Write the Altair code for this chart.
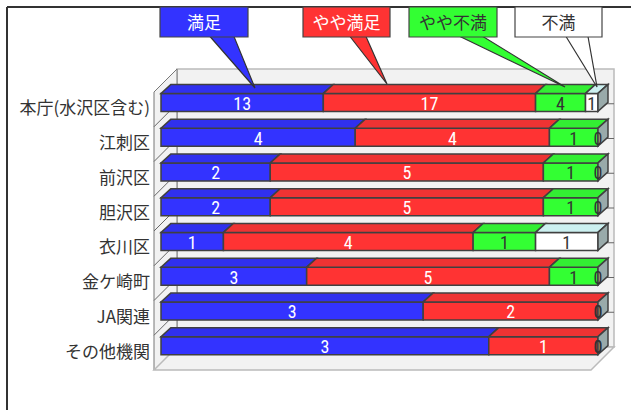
import altair as alt
import pandas as pd

# ---------------- data ----------------
categories = ["本庁(水沢区含む)", "江刺区", "前沢区", "胆沢区", "衣川区", "金ケ崎町", "JA関連", "その他機関"]
series = ["満足", "やや満足", "やや不満", "不満"]
satisfied = [13, 4, 2, 2, 1, 3, 3, 3]
somewhat_satisfied = [17, 4, 5, 5, 4, 5, 2, 1]
somewhat_dissatisfied = [4, 1, 1, 1, 1, 1, 0, 0]
dissatisfied = [1, 0, 0, 0, 1, 0, 0, 0]
values = [satisfied, somewhat_satisfied, somewhat_dissatisfied, dissatisfied]

# ---------------- style ----------------
FRONT = {"満足": "#3333FF", "やや満足": "#FF3333", "やや不満": "#33FF33", "不満": "#FFFFFF"}
TOPC = {"満足": "#3030EE", "やや満足": "#EE3333", "やや不満": "#33EE33", "不満": "#CCF0F0"}
TEXTC = {"満足": "#FFFFFF", "やや満足": "#FFFFFF", "やや不満": "#333333", "不満": "#333333"}
SIDE = "#99AAAA"
EDGE = "#404040"

W, H = 437, 278
LEFT, TOP = 161, 85
N = len(categories)
PXU = W / 100.0
PYU = H / N


def ux(px):
    return px / PXU


def uy(px):
    return px / PYU


def X(px):
    return (px - LEFT) / PXU


def Y(py):
    return (py - TOP) / PYU - 0.5


HALF = uy(9)
DX, DY = ux(10), uy(9)

xs = alt.Scale(domain=[0, 100], nice=False, zero=False)
ys = alt.Scale(domain=[-0.5, N - 0.5], nice=False, zero=False, reverse=True)


def XQ(f):
    return alt.X(f, type="quantitative", scale=xs, axis=None)


def YQ(f):
    return alt.Y(f, type="quantitative", scale=ys, axis=None)


def poly_h(pts, fill, stroke, sw=1.5):
    # pts: [(y, xa, xb), ...] -- horizontal-oriented area polygon
    df = pd.DataFrame([dict(yk=a, xa=b, xb=c) for a, b, c in pts])
    return alt.Chart(df).mark_area(orient="horizontal", fill=fill, stroke=stroke, strokeWidth=sw,
                                   opacity=1).encode(y=YQ("yk"), x=XQ("xa"), x2="xb")


def poly_v(pts, fill, stroke, sw=1.5):
    # pts: [(x, ya, yb), ...] -- vertical-oriented area polygon
    df = pd.DataFrame([dict(xk=a, ya=b, yb=c) for a, b, c in pts])
    return alt.Chart(df).mark_area(orient="vertical", fill=fill, stroke=stroke, strokeWidth=sw,
                                   opacity=1).encode(x=XQ("xk"), y=YQ("ya"), y2="yb")


front_rows, lab_rows = [], []
top_layers, side_layers = [], []
for i, cat in enumerate(categories):
    vals = [v[i] for v in values]
    tot = sum(vals)
    cum = 0
    for s, v in zip(series, vals):
        x0 = cum / tot * 100
        cum += v
        x1 = cum / tot * 100
        lab_rows.append(dict(x=(x0 + x1) / 2, y=i + uy(2.5), t=str(v), c=TEXTC[s]))
        if v > 0:
            front_rows.append(dict(x0=x0, x1=x1, y0=i - HALF, y1=i + HALF, f=FRONT[s]))
            top_layers.append(poly_h([(i - HALF, x0, x1), (i - HALF - DY, x0 + DX, x1 + DX)], TOPC[s], EDGE))
    side_layers.append(poly_v([(100, i - HALF, i + HALF), (100 + DX, i - HALF - DY, i + HALF - DY)], SIDE, EDGE))

# ---------------- walls ----------------
FO, BO = 7, 16  # front / back plane offsets (px) from bar plane
back_wall = alt.Chart(pd.DataFrame([dict(x0=ux(BO), x1=100 + ux(BO), y0=-0.5 - uy(BO), y1=N - 0.5 - uy(BO))])).mark_rect(
    fill="#F2F2F2", stroke="#BBBBBB", strokeWidth=1.5
).encode(x=XQ("x0"), x2="x1", y=YQ("y0"), y2="y1")

left_wall = poly_v([(-ux(FO), -0.5 + uy(FO), N - 0.5 + uy(FO)),
                    (ux(BO), -0.5 - uy(BO), N - 0.5 - uy(BO))], "#F2F2F2", "#777777", 1)
floor = poly_h([(N - 0.5 + uy(FO), -ux(FO), 100 - ux(FO)),
                (N - 0.5 - uy(BO), ux(BO), 100 + ux(BO))], "#F2F2F2", "#BBBBBB", 1.5)

grid_rows = []
for k in range(1, N):
    yb = k - 0.5
    grid_rows.append(dict(x0=-ux(FO), x1=ux(BO), y0=yb + uy(FO), y1=yb - uy(BO)))
    grid_rows.append(dict(x0=ux(BO), x1=100 + ux(BO), y0=yb - uy(BO), y1=yb - uy(BO)))
grid = alt.Chart(pd.DataFrame(grid_rows)).mark_rule(color="#666666", strokeWidth=1).encode(
    x=XQ("x0"), x2="x1", y=YQ("y0"), y2="y1"
)

# ---------------- bars ----------------
fronts = alt.Chart(pd.DataFrame(front_rows)).mark_rect(stroke=EDGE, strokeWidth=1.5).encode(
    x=XQ("x0"), x2="x1", y=YQ("y0"), y2="y1", fill=alt.Fill("f:N", scale=None)
)
labels = alt.Chart(pd.DataFrame(lab_rows)).mark_text(
    font="Liberation Sans Narrow, Roboto Condensed, DejaVu Sans Condensed, sans-serif", fontSize=18,
    baseline="middle", align="center"
).encode(x=XQ("x"), y=YQ("y"), text="t:N", color=alt.Color("c:N", scale=None))

cat_df = pd.DataFrame(dict(cat=categories, x=[X(150)] * N, y=[i + uy(FO) for i in range(N)]))
cat_labels = alt.Chart(cat_df).mark_text(
    font="Noto Sans CJK JP", fontSize=17, align="right", baseline="middle", color="#333333"
).encode(x=XQ("x"), y=YQ("y"), text="cat:N")

# ---------------- callout legend ----------------
box_px = {"満足": (160, 248), "やや満足": (303, 390), "やや不満": (409, 497), "不満": (515, 602)}
ptr_px = {"満足": (210, 234, 255, 88), "やや満足": (350, 366, 387, 84),
          "やや不満": (460, 483, 565, 87), "不満": (566, 588, 597, 87)}
box_rows, btxt_rows, ptr_layers = [], [], []
for s in series:
    a, b = box_px[s]
    box_rows.append(dict(x0=X(a), x1=X(b), y0=Y(7), y1=Y(37), f=FRONT[s]))
    btxt_rows.append(dict(x=X((a + b) / 2), y=Y(23.5), t=s, c=TEXTC[s]))
    p0, p1, tx, ty = ptr_px[s]
    ptr_layers.append(poly_h([(Y(36.5), X(p0), X(p1)), (Y(ty), X(tx), X(tx))], FRONT[s], "#333333", 1.2))

boxes = alt.Chart(pd.DataFrame(box_rows)).mark_rect(stroke="#444444", strokeWidth=1.2).encode(
    x=XQ("x0"), x2="x1", y=YQ("y0"), y2="y1", fill=alt.Fill("f:N", scale=None)
)
box_text = alt.Chart(pd.DataFrame(btxt_rows)).mark_text(
    font="Noto Sans CJK JP", fontSize=17, align="center", baseline="middle"
).encode(x=XQ("x"), y=YQ("y"), text="t:N", color=alt.Color("c:N", scale=None))

frame = alt.Chart(pd.DataFrame([
    dict(x0=X(7), x1=X(700), y0=Y(7), y1=Y(7)),
    dict(x0=X(7), x1=X(7), y0=Y(7), y1=Y(500)),
])).mark_rule(color="#333333", strokeWidth=2).encode(x=XQ("x0"), x2="x1", y=YQ("y0"), y2="y1")

chart = alt.layer(
    back_wall, left_wall, floor, grid, fronts, *top_layers, *side_layers, labels, cat_labels,
    frame, *ptr_layers, boxes, box_text
).properties(
    width=W, height=H,
    autosize=alt.AutoSizeParams(type="none"),
    padding={"left": LEFT, "top": TOP, "right": 631 - LEFT - W, "bottom": 410 - TOP - H},
    background="white",
).configure_view(stroke=None)

chart.save("out.html", embed_options={"renderer": "svg", "actions": False})
